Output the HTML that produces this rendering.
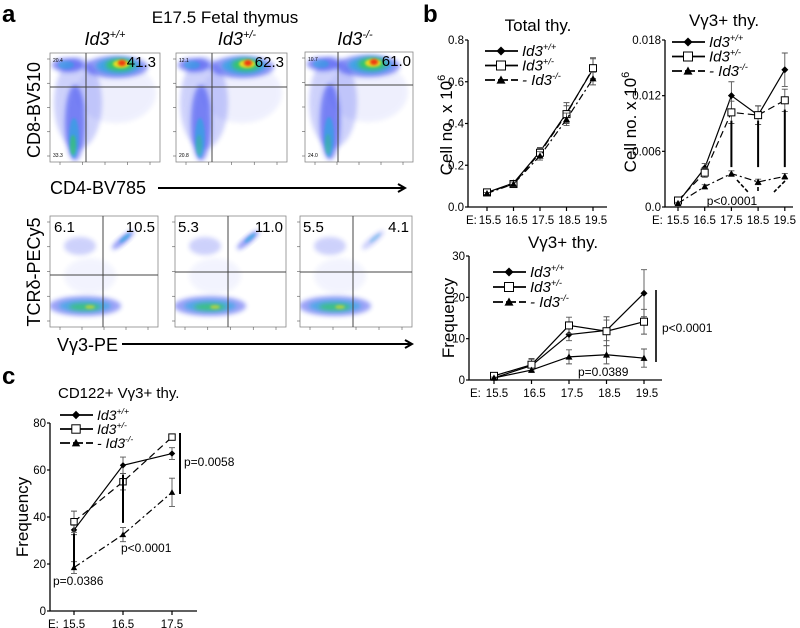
<!DOCTYPE html>
<html><head><meta charset="utf-8">
<style>
html,body{margin:0;padding:0;background:#fff;}
svg{display:block;font-family:"Liberation Sans",Arial,sans-serif;}
</style></head>
<body>
<svg id="fig" width="800" height="628" viewBox="0 0 800 628" xmlns="http://www.w3.org/2000/svg">
<defs>
  <filter id="b3" x="-50%" y="-50%" width="200%" height="200%"><feGaussianBlur stdDeviation="2.5"/></filter>
  <filter id="b1" x="-50%" y="-50%" width="200%" height="200%"><feGaussianBlur stdDeviation="1.2"/></filter>
  <marker id="arr" markerWidth="10" markerHeight="10" refX="8" refY="5" orient="auto" markerUnits="userSpaceOnUse">
    <path d="M1,1 L8,5 L1,9" fill="none" stroke="#000" stroke-width="2"/>
  </marker>
</defs>

<text x="2" y="22" font-size="24" font-weight="bold">a</text>
<text x="225" y="23" font-size="17" text-anchor="middle">E17.5 Fetal thymus</text>
<g font-size="18" font-style="italic" text-anchor="middle">
  <text x="105" y="45">Id3<tspan font-size="11" dy="-7">+/+</tspan></text>
  <text x="237" y="45">Id3<tspan font-size="11" dy="-7">+/-</tspan></text>
  <text x="355" y="45">Id3<tspan font-size="11" dy="-7">-/-</tspan></text>
</g>
<g id="flow"></g>
<text transform="translate(40,110) rotate(-90)" font-size="18" text-anchor="middle">CD8-BV510</text>
<text x="50" y="194" font-size="18">CD4-BV785</text>
<line x1="158" y1="188" x2="405" y2="188" stroke="#000" stroke-width="2" marker-end="url(#arr)"/>
<text transform="translate(40,272) rotate(-90)" font-size="18" text-anchor="middle">TCRδ-PECy5</text>
<text x="57" y="351" font-size="18">Vγ3-PE</text>
<line x1="122" y1="344" x2="412" y2="344" stroke="#000" stroke-width="2" marker-end="url(#arr)"/>

<text x="423" y="22" font-size="24" font-weight="bold">b</text>
<text x="538" y="31" font-size="17" text-anchor="middle">Total thy.</text>
<text x="724" y="26" font-size="17" text-anchor="middle">Vγ3+ thy.</text>
<text x="563" y="248" font-size="17" text-anchor="middle">Vγ3+ thy.</text>
<g id="charts"></g>

<text x="2" y="384" font-size="24" font-weight="bold">c</text>
<text x="58" y="398" font-size="15">CD122+ Vγ3+ thy.</text>
</svg>

<script>
const stages = ["15.5","16.5","17.5","18.5","19.5"];
const stagesC = ["15.5","16.5","17.5"];

const totalWT  = [0.07, 0.115, 0.265, 0.45, 0.66];
const totalHet = [0.07, 0.11, 0.26, 0.445, 0.665];
const totalKO  = [0.065, 0.11, 0.245, 0.42, 0.615];
const totalWTErr  = [0.005, 0.01, 0.02, 0.05, 0.05];
const totalHetErr = [0.005, 0.01, 0.02, 0.04, 0.05];
const totalKOErr  = [0.005, 0.01, 0.02, 0.03, 0.03];
const totalTicks = ["0.0","0.2","0.4","0.6","0.8"];

const countWT  = [0.0005, 0.0042, 0.0120, 0.0099, 0.0148];
const countHet = [0.0007, 0.0037, 0.0102, 0.0099, 0.0115];
const countKO  = [0.0004, 0.0022, 0.0036, 0.0027, 0.0033];
const countWTErr  = [0.0003, 0.0005, 0.0015, 0.0010, 0.0018];
const countHetErr = [0.0003, 0.0005, 0.0012, 0.0010, 0.0012];
const countKOErr  = [0.0001, 0.0002, 0.0003, 0.0003, 0.0003];
const countTicks = ["0.0","0.006","0.012","0.018"];

const freqWT  = [0.5, 3.5, 11, 12, 21];
const freqHet = [1.0, 3.7, 13.2, 11.8, 14.1];
const freqKO  = [0.5, 2.4, 5.6, 6.1, 5.3];
const freqWTErr  = [0.3, 1.5, 1.5, 2.5, 5.7];
const freqHetErr = [0.3, 1.5, 2.0, 3.5, 3.0];
const freqKOErr  = [0.2, 0.5, 1.7, 2.2, 2.2];
const freqTicks = ["0","10","20","30"];

const cdWT  = [34.5, 62, 67];
const cdHet = [38, 55, 74];
const cdKO  = [18.5, 32.5, 50.5];
const cdWTErr  = [2, 3.5, 2.5];
const cdHetErr = [4.5, 3.5, 0];
const cdKOErr  = [2.5, 3, 6];
const cdTicks = ["0","20","40","60","80"];

const NS = "http://www.w3.org/2000/svg";
function mk(tag, attrs, parent, text){
  const e = document.createElementNS(NS, tag);
  for (const k in attrs) e.setAttribute(k, attrs[k]);
  if (text !== undefined) e.textContent = text;
  parent.appendChild(e);
  return e;
}
const charts = document.getElementById('charts');

function marker(g, kind, x, y, s){
  let m;
  if (kind === 'diamond') {
    m = mk('path', {d:`M${x},${y-s} L${x+s},${y} L${x},${y+s} L${x-s},${y} Z`, fill:'#000'}, g);
  } else if (kind === 'square') {
    m = mk('rect', {x:x-s, y:y-s, width:2*s, height:2*s, fill:'#fff', stroke:'#000', 'stroke-width':1}, g);
  } else {
    m = mk('path', {d:`M${x},${y-s} L${x+s},${y+s*0.8} L${x-s},${y+s*0.8} Z`, fill:'#000'}, g);
  }
  return m;
}

function drawChart(c){
  const g = mk('g', {}, charts);
  
  
  const ys = v => c.y0 - (v / c.yMax) * (c.y0 - c.yTop);
  const xs = i => c.x0 + i * c.dx;
  const ax = mk('path', {d:`M${c.ax},${c.yTop} L${c.ax},${c.y0} L${c.xEnd},${c.y0}`, fill:'none', stroke:'#000', 'stroke-width':1.3}, g);
  
  
  c.ticks.forEach(t => {
    const y = ys(parseFloat(t));
    mk('line', {x1:c.ax-3, y1:y, x2:c.ax, y2:y, stroke:'#000', 'stroke-width':1.2}, g);
    const tl = mk('text', {x:c.ax-4, y:y+4, 'font-size':11.5, 'text-anchor':'end'}, g, t);
    
    
  });
  c.cats.forEach((cat, i) => {
    const x = xs(i);
    mk('line', {x1:x, y1:c.y0, x2:x, y2:c.y0+4, stroke:'#000', 'stroke-width':1.2}, g);
    const tl = mk('text', {x:x + (c.xOff||0), y:c.y0+17, 'font-size':11.5, 'text-anchor':'middle'}, g, cat);
    
    
  });
  const el = mk('text', {x:c.eX, y:c.y0+17, 'font-size':11.5}, g, 'E:');
  
  
  const yl = mk('text', {transform:`translate(${c.ylX},${c.ylY}) rotate(-90)`, 'font-size':17, 'text-anchor':'middle'}, g);
  
  
  yl.textContent = c.ylabel;
  if (c.ylabelSup) mk('tspan', {'font-size':11, dy:-7}, yl, c.ylabelSup);
  c.series.forEach(s => {
    const sg = mk('g', {}, g);
    
    
    const pts = s.vals.map((v, i) => [xs(i), ys(v)]);
    const ln = mk('polyline', {points: pts.map(p => p.join(',')).join(' '), fill:'none', stroke:'#000', 'stroke-width':1.2, 'stroke-dasharray': s.dash || 'none'}, sg);
    
    
    s.vals.forEach((v, i) => {
      const e = s.err[i];
      if (e > 0) {
        const x = xs(i), y1 = ys(v + e), y2 = ys(v - e);
        mk('path', {d:`M${x},${y1} L${x},${y2} M${x-3},${y1} L${x+3},${y1} M${x-3},${y2} L${x+3},${y2}`, stroke:'#555', 'stroke-width':0.9, fill:'none'}, sg);
      }
    });
    s.vals.forEach((v, i) => {
      const m = marker(sg, s.mk, xs(i), ys(v), c.ms);
      
      
    });
  });
  const lg = mk('g', {}, g);
  
  
  c.series.forEach((s, k) => {
    const y = c.legY + k * c.legDy;
    const eg = mk('g', {}, lg);
    
    
    mk('line', {x1:c.legX, y1:y, x2:c.legX + 33, y2:y, stroke:'#000', 'stroke-width':1.8, 'stroke-dasharray': s.legDash || 'none'}, eg);
    marker(eg, s.mk, c.legX + 16, y, c.ms + 1);
    const t = mk('text', {x:c.legX + 37, y:y + 5, 'font-size':c.legFs, 'font-style':'italic'}, eg, (s.legPre || '') + 'Id3');
    mk('tspan', {'font-size':c.legFs * 0.62, dy:-6}, t, s.sup);
  });
}

const stdSeries = (wt, wtE, het, hetE, ko, koE, styled) => [
  {key:'wt', vals:wt, err:wtE, mk:'diamond', sup:'+/+', dash: 'none'},
  {key:'het', vals:het, err:hetE, mk:'square', sup:'+/-', dash: styled ? '7,4' : 'none', legDash:'none'},
  {key:'ko', vals:ko, err:koE, mk:'triangle', sup:'-/-', dash: styled ? '7,3,2,3' : 'none', legDash:'10,3', legPre:'- '}
];

drawChart({name:'total-thy-chart', cats:stages, ticks:totalTicks, yMax:0.8, ax:468, yTop:40, y0:207, x0:487, dx:26.5, xEnd:607, eX:466, xOff:3,
  ylabel:'Cell no. x 10', ylabelSup:'6', ylX:452, ylY:125, ms:3.5, legX:485, legY:51, legDy:14.5, legFs:15,
  series: stdSeries(totalWT,totalWTErr,totalHet,totalHetErr,totalKO,totalKOErr,true)});
drawChart({name:'vg3-count-chart', cats:stages, ticks:countTicks, yMax:0.018, ax:665, yTop:40, y0:207, x0:678, dx:26.7, xEnd:793, eX:652,
  ylabel:'Cell no. x 10', ylabelSup:'6', ylX:636, ylY:122, ms:3.5, legX:672, legY:42, legDy:14.5, legFs:15,
  series: stdSeries(countWT,countWTErr,countHet,countHetErr,countKO,countKOErr,true)});
drawChart({name:'vg3-freq-chart', cats:stages, ticks:freqTicks, yMax:30, ax:469, yTop:256, y0:380, x0:494, dx:37.5, xEnd:662, eX:470, xOff:3,
  ylabel:'Frequency', ylX:454, ylY:318, ms:3.5, legX:493, legY:272, legDy:15, legFs:15,
  series: stdSeries(freqWT,freqWTErr,freqHet,freqHetErr,freqKO,freqKOErr,false)});
drawChart({name:'cd122-freq-chart', cats:stagesC, ticks:cdTicks, yMax:80, ax:50, yTop:423, y0:611, x0:74, dx:49, xEnd:197, eX:48,
  ylabel:'Frequency', ylX:28, ylY:517, ms:3.2, legX:60, legY:415, legDy:14, legFs:14,
  series: stdSeries(cdWT,cdWTErr,cdHet,cdHetErr,cdKO,cdKOErr,true)});

(function(){
  const g = mk('g', {}, charts);
  
  
  const ysC = v => 207 - v / 0.018 * 167;
  [[2, 0.0093], [3, 0.0093], [4, 0.0105]].forEach(([i, top]) => {
    const x = 678 + i * 26.7;
    mk('line', {x1:x, y1:ysC(top), x2:x, y2:ysC(0.0043), stroke:'#000', 'stroke-width':2}, g);
  });
  mk('path', {d:'M737,180 L748,192 M758,181 L758,193 M785,181 L774,192', stroke:'#000', 'stroke-width':1.6, 'stroke-dasharray':'4,2', fill:'none'}, g);
  mk('text', {x:732, y:205, 'font-size':12, 'text-anchor':'middle'}, g, 'p<0.0001');
  mk('line', {x1:656, y1:290, x2:656, y2:362, stroke:'#000', 'stroke-width':1.6}, g);
  mk('text', {x:662, y:332, 'font-size':12}, g, 'p<0.0001');
  mk('text', {x:578, y:376, 'font-size':12}, g, 'p=0.0389');
  const ysF = v => 611 - v / 80 * 188;
  mk('line', {x1:74, y1:ysF(33), x2:74, y2:ysF(19), stroke:'#000', 'stroke-width':2}, g);
  mk('line', {x1:123, y1:ysF(58), x2:123, y2:ysF(37.5), stroke:'#000', 'stroke-width':2}, g);
  mk('line', {x1:180, y1:433, x2:180, y2:494, stroke:'#000', 'stroke-width':2}, g);
  mk('text', {x:53, y:585, 'font-size':12}, g, 'p=0.0386');
  mk('text', {x:121, y:552, 'font-size':12}, g, 'p<0.0001');
  mk('text', {x:184, y:466, 'font-size':12}, g, 'p=0.0058');
})();

const flow = document.getElementById('flow');
function flowPlot(name, x, y, w, h, vx, hy, blobs, nums){
  const g = mk('g', {}, flow);
  
  
  const cid = 'clip-' + name;
  const cp = mk('clipPath', {id:cid}, g);
  mk('rect', {x:x, y:y, width:w, height:h}, cp);
  const inner = mk('g', {'clip-path':`url(#${cid})`}, g);
  blobs.forEach(b => {
    mk('ellipse', {cx:b[0], cy:b[1], rx:b[2], ry:b[3], fill:b[4], opacity:b[5], filter: b[2] > 8 ? 'url(#b3)' : 'url(#b1)', transform: b[6] ? `rotate(${b[6]} ${b[0]} ${b[1]})` : ''}, inner);
  });
  mk('rect', {x:x, y:y, width:w, height:h, fill:'none', stroke:'#888', 'stroke-width':0.8}, g);
  mk('line', {x1:vx, y1:y, x2:vx, y2:y+h, stroke:'#444', 'stroke-width':1}, g);
  mk('line', {x1:x, y1:hy, x2:x+w, y2:hy, stroke:'#444', 'stroke-width':1}, g);
  nums.forEach(n => {
    const t = mk('text', {x:n[0], y:n[1], 'font-size':n[2], 'text-anchor':n[3] || 'start'}, g, n[4]);
    
    
  });
  for (let i = 0; i < 5; i++) {
    mk('line', {x1:x, y1:y + 6 + i * (h - 12) / 4, x2:x - 3, y2:y + 6 + i * (h - 12) / 4, stroke:'#555', 'stroke-width':0.6}, g);
    mk('line', {x1:x + 10 + i * (w - 20) / 4, y1:y + h, x2:x + 10 + i * (w - 20) / 4, y2:y + h + 3, stroke:'#555', 'stroke-width':0.6}, g);
  }
}
const BLUE = '#2233ee', CY = '#22aadd', GR = '#33cc55', YE = '#eedd22', RE = '#ee3311';
function topBlobs(x, y, vx, hy, k){
  return [
    [x+28, y+50, 24, 46, BLUE, 0.22],
    [vx+30, y+40, 40, 30, BLUE, 0.07],
    [x+25, y+70, 10, 38, BLUE, 0.5],
    [x+24, y+85, 5, 20, CY, 0.6],
    [x+23, y+92, 3, 10, GR, 0.6*k],
    [x+18, y+12, 16, 7, BLUE, 0.55],
    [x+16, y+12, 8, 4, CY, 0.5],
    [vx+30, y+14, 32, 11, BLUE, 0.5],
    [vx+32, y+13, 22, 8, CY, 0.7],
    [vx+34, y+12, 14, 6, GR, 0.85],
    [vx+35, y+11, 8, 4, YE, 0.95],
    [vx+36, y+10, 4, 3, RE, 0.95]
  ];
}
function botBlobs(x, y, vx, hy, k){
  return [
    [x+30, y+30, 16, 9, BLUE, 0.22],
    [vx+20, y+24, 14, 3.5, BLUE, 0.5*k, -40],
    [vx+22, y+22, 7, 2, CY, 0.6*k, -40],
    [x+35, y+90, 36, 10, BLUE, 0.45],
    [x+35, y+90, 26, 6, CY, 0.6],
    [x+35, y+91, 16, 3.5, GR, 0.7],
    [x+40, y+91, 5, 2, YE, 0.6],
    [x+40, y+60, 26, 18, BLUE, 0.05]
  ];
}
flowPlot('flow-cd4cd8-wt', 50, 53, 110, 109, 86, 87, topBlobs(50,53,86,87,1), [[156,67,15,'end','41.3'],[53,62,5,'start','20.4'],[53,157,5,'start','33.3']]);
flowPlot('flow-cd4cd8-het', 176, 53, 111, 109, 212, 87, topBlobs(176,53,212,87,0.5), [[284,67,15,'end','62.3'],[179,62,5,'start','12.1'],[179,157,5,'start','20.8']]);
flowPlot('flow-cd4cd8-ko', 305, 52, 108, 110, 338, 85, topBlobs(305,52,338,85,0.5), [[411,66,15,'end','61.0'],[308,61,5,'start','10.7'],[308,157,5,'start','24.0']]);
flowPlot('flow-tcrd-vg3-wt', 50, 216, 108, 111, 103, 275, botBlobs(50,216,103,275,1), [[54,232,15,'start','6.1'],[155,232,15,'end','10.5']]);
flowPlot('flow-tcrd-vg3-het', 175, 216, 111, 111, 228, 272, botBlobs(175,216,228,272,1), [[178,232,15,'start','5.3'],[283,232,15,'end','11.0']]);
flowPlot('flow-tcrd-vg3-ko', 300, 216, 112, 111, 353, 272, botBlobs(300,216,353,272,0.5), [[303,232,15,'start','5.5'],[409,232,15,'end','4.1']]);
</script>
</body></html>
